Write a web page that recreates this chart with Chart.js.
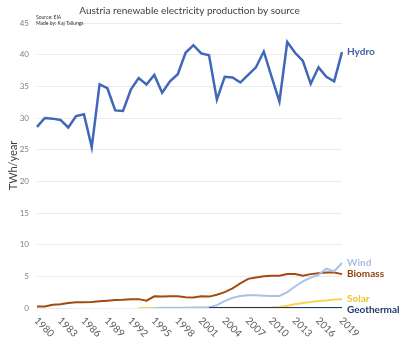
<!DOCTYPE html>
<html>
<head>
<meta charset="utf-8">
<script src="https://cdn.jsdelivr.net/npm/chart.js@4.4.1/dist/chart.umd.min.js"></script>
<style>
html,body{margin:0;padding:0;background:#fff;}
#wrap{width:400px;height:341px;}
</style>
</head>
<body>
<div id="wrap"><canvas id="c" width="400" height="341"></canvas></div>
<script>
const years = [];
for (let y = 1980; y <= 2019; y++) years.push(String(y));
const xTickLabels = ["1980","1983","1986","1989","1992","1995","1998","2001","2004","2007","2010","2013","2016","2019"];
const yTicks = [0,5,10,15,20,25,30,35,40,45];

const hydro = [28.6,30.0,29.9,29.7,28.5,30.3,30.6,25.4,35.3,34.7,31.2,31.1,34.5,36.3,35.3,36.8,34.0,35.8,36.9,40.3,41.5,40.2,39.9,32.9,36.5,36.4,35.6,36.8,38.0,40.5,36.5,32.6,42.0,40.3,39.0,35.4,38.0,36.5,35.8,40.4];
const biomass = [0.25,0.25,0.5,0.6,0.8,0.9,0.9,0.95,1.05,1.15,1.25,1.3,1.4,1.4,1.15,1.85,1.8,1.85,1.85,1.7,1.65,1.85,1.8,2.1,2.5,3.1,3.9,4.6,4.8,5.0,5.1,5.1,5.35,5.35,5.1,5.35,5.5,5.6,5.6,5.35];
const wind = [null,null,null,null,null,null,null,null,null,null,null,null,null,null,null,0.01,0.02,0.03,0.04,0.04,0.07,0.08,0.1,0.45,1.1,1.6,1.9,2.0,2.0,1.95,1.9,1.9,2.5,3.4,4.2,4.8,5.25,6.2,5.8,7.1];
const solar = [null,null,null,null,null,null,null,null,null,null,null,null,null,0.01,0.01,0.01,0.01,0.01,0.01,0.01,0.01,0.01,0.01,0.02,0.02,0.02,0.02,0.03,0.03,0.05,0.09,0.17,0.35,0.6,0.8,0.95,1.1,1.2,1.35,1.4];
const geothermal = [null,null,null,null,null,null,null,null,null,null,null,null,null,null,null,null,null,null,null,null,null,null,0.002,0.002,0.002,0.002,0.002,0.002,0.002,0.002,0.002,0.002,0.002,0.002,0.002,0.002,0.002,0.002,0.002,0.002];

const seriesNames = ["Hydro","Wind","Biomass","Solar","Geothermal"];
const lineColors = {Hydro:"#4067b8",Wind:"#a9c2e6",Biomass:"#a34a10",Solar:"#f7d64a",Geothermal:"#203a6b"};
const textColors = {Hydro:"#3f5fa8",Wind:"#a6bfe3",Biomass:"#8e3f0c",Solar:"#ecc52c",Geothermal:"#203a6b"};

const titleText = "Austria renewable electricity production by source";
const sourceLines = ["Source: EIA","Made by: Kaj Tallungs"];

const FONT = "Lato, 'Noto Sans', sans-serif";

const textPlugin = {
  id: 'texts',
  afterDraw(chart) {
    const ctx = chart.ctx;
    const ca = chart.chartArea;
    const xs = chart.scales.x, ys = chart.scales.y;
    ctx.save();
    // title
    ctx.fillStyle = "#404040";
    ctx.font = "10px " + FONT;
    ctx.textAlign = "center";
    ctx.textBaseline = "middle";
    ctx.fillText(titleText, (ca.left + ca.right) / 2, 11);
    // source
    ctx.font = "5px " + FONT;
    ctx.textAlign = "left";
    ctx.fillStyle = "#333";
    ctx.fillText(sourceLines[0], 36, 17);
    ctx.fillText(sourceLines[1], 36, 23);
    // x tick labels rotated clockwise
    ctx.font = "10px " + FONT;
    ctx.fillStyle = "#595959";
    xTickLabels.forEach(lbl => {
      const idx = years.indexOf(lbl);
      const px = xs.getPixelForValue(idx);
      ctx.save();
      ctx.translate(px - 1, ca.bottom + 11);
      ctx.rotate(Math.PI / 4);
      ctx.textAlign = "left";
      ctx.textBaseline = "middle";
      ctx.fillText(lbl, 0, 0);
      ctx.restore();
    });
    // end labels
    chart.data.datasets.forEach((ds, i) => {
      const last = ds.data[ds.data.length - 1];
      const py = ys.getPixelForValue(last);
      ctx.font = "bold 10px " + FONT;
      ctx.fillStyle = textColors[ds.label];
      ctx.textAlign = "left";
      ctx.textBaseline = "middle";
      ctx.fillText(ds.label, ca.right + 5, py + (ds.label === "Geothermal" ? 2 : 0));
    });
    ctx.restore();
  }
};

const dataMap = {Hydro:hydro, Wind:wind, Biomass:biomass, Solar:solar, Geothermal:geothermal};
const orderMap = {Geothermal:1, Wind:2, Solar:3, Biomass:4, Hydro:5};

new Chart(document.getElementById('c'), {
  type: 'line',
  data: {
    labels: years,
    datasets: seriesNames.map(n => ({
      label: n,
      data: dataMap[n],
      borderColor: lineColors[n],
      backgroundColor: lineColors[n],
      borderWidth: n === "Hydro" ? 2.5 : 2,
      pointRadius: 0,
      tension: 0,
      fill: false,
      order: orderMap[n]
    }))
  },
  options: {
    responsive: false,
    animation: false,
    layout: { padding: { top: 23, right: 58, bottom: 0, left: 0 } },
    plugins: { legend: { display: false }, tooltip: { enabled: false }, title: { display: false } },
    scales: {
      x: {
        type: 'category',
        offset: false,
        grid: { display: false },
        border: { display: false },
        ticks: { display: false },
        afterFit(s) { s.height = 33; }
      },
      y: {
        min: 0, max: 45,
        afterBuildTicks(s) { s.ticks = yTicks.map(v => ({ value: v })); },
        grid: { color: "#ebebeb", lineWidth: 1, drawTicks: false },
        border: { display: false },
        ticks: { color: "#7f7f7f", font: { family: FONT, size: 8 }, padding: 8 },
        title: { display: true, text: "TWh/year", color: "#404040", font: { family: FONT, size: 11 }, padding: { top: 7, bottom: 0 } },
        afterFit(s) { s.width = 37; }
      }
    }
  },
  plugins: [textPlugin]
});
</script>
</body>
</html>
